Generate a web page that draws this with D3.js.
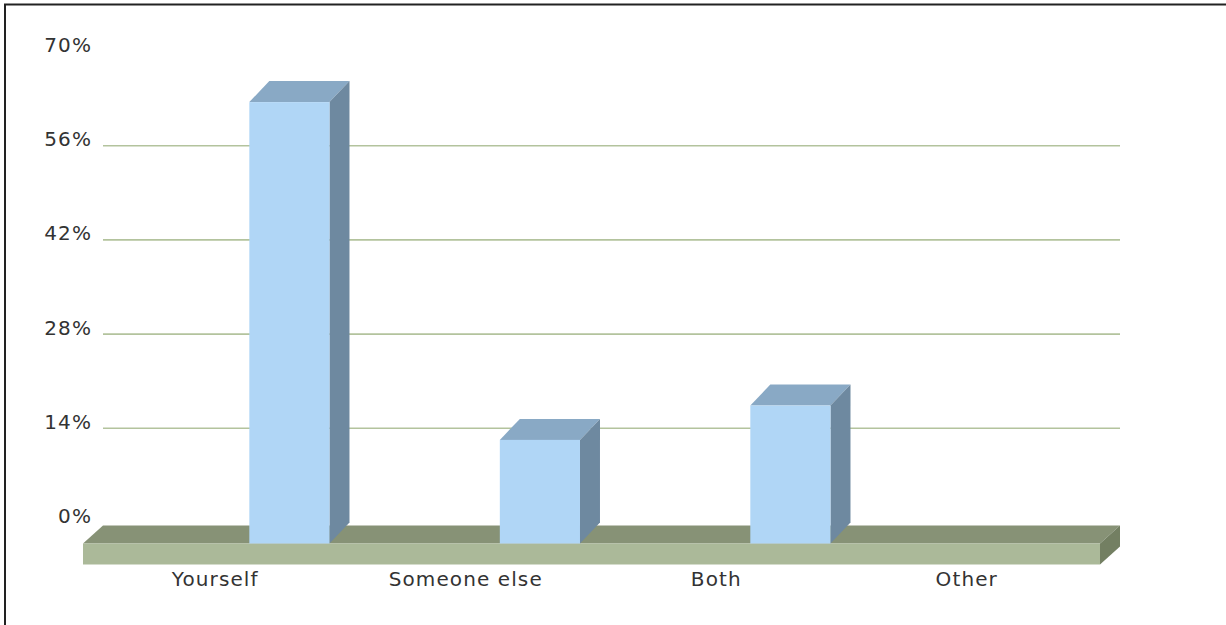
<!DOCTYPE html>
<meta charset="utf-8">
<style>
  body { margin: 0; background: #fff; }
  .lbl { font: 20px "DejaVu Sans", sans-serif; fill: #333; letter-spacing: 1.1px; }
</style>
<svg width="1226" height="625"></svg>
<script src="https://d3js.org/d3.v7.min.js"></script>
<script>
var categories = ["Yourself", "Someone else", "Both", "Other"];
var values = [65.6, 15.4, 20.5, 0];
var tickValues = [0, 14, 28, 42, 56, 70];
var tickLabels = ["0%", "14%", "28%", "42%", "56%", "70%"];

var svg = d3.select("svg");

// back wall scale, front faces are shifted by the depth
var y = d3.scaleLinear().domain([0, 70]).range([522.5, 51.5]);
var x = d3.scaleBand().domain(categories).range([89, 1091]);
var dx = 20, dy = 21;

// frame
svg.append("path")
    .attr("d", "M5,625 V4.5 H1226")
    .attr("fill", "none")
    .attr("stroke", "#222")
    .attr("stroke-width", 2);

// gridlines
svg.append("g").selectAll("line")
    .data(tickValues.filter(function(t) { return t > 0 && t < 70; }))
    .enter().append("line")
    .attr("x1", 103).attr("x2", 1120)
    .attr("y1", function(d) { return y(d); })
    .attr("y2", function(d) { return y(d); })
    .attr("stroke", "#b3c39d")
    .attr("stroke-width", 1.6);

// y labels
svg.append("g").selectAll("text")
    .data(tickValues)
    .enter().append("text")
    .attr("class", "lbl")
    .attr("text-anchor", "end")
    .attr("x", 92)
    .attr("y", function(d) { return y(d) + 0.5; })
    .text(function(d, i) { return tickLabels[i]; });

// floor
var fl = 83, fr = 1100, ft = y(0) + dy, fh = 21, fdy = 18;
var floor = svg.append("g");
floor.append("path")
    .attr("d", "M" + fl + "," + ft + "L" + (fl + dx) + "," + (ft - fdy) + "L" + (fr + dx) + "," + (ft - fdy) + "L" + fr + "," + ft + "Z")
    .attr("fill", "#879276");
floor.append("path")
    .attr("d", "M" + fr + "," + ft + "L" + (fr + dx) + "," + (ft - fdy) + "L" + (fr + dx) + "," + (ft - fdy + fh) + "L" + fr + "," + (ft + fh) + "Z")
    .attr("fill", "#737f62");
floor.append("rect")
    .attr("x", fl).attr("y", ft)
    .attr("width", fr - fl).attr("height", fh)
    .attr("fill", "#abb999");

// bars
var bw = x.bandwidth() * 0.32, boff = x.bandwidth() * 0.64;
var bars = svg.append("g").selectAll("g")
    .data(categories.map(function(c, i) { return {cat: c, value: values[i]}; }).filter(function(d) { return d.value > 0; }))
    .enter().append("g");

bars.append("path")
    .attr("d", function(d) {
      var fx = x(d.cat) + boff, yt = y(d.value) + dy;
      return "M" + fx + "," + yt + "L" + (fx + dx) + "," + (yt - dy) + "L" + (fx + bw + dx) + "," + (yt - dy) + "L" + (fx + bw) + "," + yt + "Z";
    })
    .attr("fill", "#89a9c5");
bars.append("path")
    .attr("d", function(d) {
      var fx = x(d.cat) + boff + bw, yt = y(d.value) + dy, yb = y(0) + dy;
      return "M" + fx + "," + yt + "L" + (fx + dx) + "," + (yt - dy) + "L" + (fx + dx) + "," + (yb - dy) + "L" + fx + "," + yb + "Z";
    })
    .attr("fill", "#6e89a0");
bars.append("rect")
    .attr("x", function(d) { return x(d.cat) + boff; })
    .attr("y", function(d) { return y(d.value) + dy; })
    .attr("width", bw)
    .attr("height", function(d) { return y(0) - y(d.value); })
    .attr("fill", "#b0d6f6");

// x labels
svg.append("g").selectAll("text")
    .data(categories)
    .enter().append("text")
    .attr("class", "lbl")
    .attr("text-anchor", "middle")
    .attr("x", function(d) { return x(d) + x.bandwidth() / 2 + 1; })
    .attr("y", 586)
    .text(function(d) { return d; });
</script>
